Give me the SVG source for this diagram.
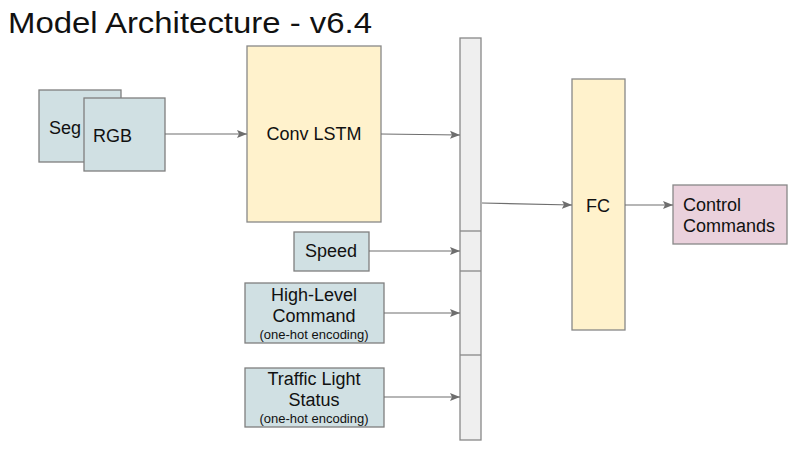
<svg xmlns="http://www.w3.org/2000/svg" width="800" height="449" viewBox="0 0 800 449">
<defs>
<marker id="arr" viewBox="0 0 10 10" refX="10" refY="5" markerWidth="10" markerHeight="10" markerUnits="userSpaceOnUse" orient="auto">
<path d="M0,1 L10,5 L0,9 L2,5 Z" fill="#6e6e6e"/>
</marker>
</defs>
<style>
text{font-family:"Liberation Sans",Arial,sans-serif;fill:#111}
.in{fill:#d0e0e3;stroke:#7f7f7f;stroke-width:1.3}
.yl{fill:#fff2cc;stroke:#888;stroke-width:1.3}
.cc{fill:#efefef;stroke:#888;stroke-width:1.3}
.pk{fill:#ead1dc;stroke:#888;stroke-width:1.3}
.t{font-size:18px}
.s{font-size:13px}
.c{text-anchor:middle}
.ln{stroke:#6e6e6e;stroke-width:1.2;fill:none;marker-end:url(#arr)}
</style>
<rect width="800" height="449" fill="#fff"/>
<text x="8" y="33" font-size="30" textLength="364" lengthAdjust="spacingAndGlyphs">Model Architecture - v6.4</text>
<g id="seg"><rect class="in" x="39" y="90" width="82" height="72"/><text class="t" x="49" y="134">Seg</text></g>
<g id="rgb"><rect class="in" x="84" y="98" width="81" height="73"/><text class="t" x="93" y="142">RGB</text></g>
<g id="convlstm"><rect class="yl" x="247" y="46" width="134" height="176"/><text class="t c" x="314" y="140">Conv LSTM</text></g>
<g id="concat">
<rect class="cc" x="460" y="38" width="21" height="402"/>
<line x1="460" y1="231" x2="481" y2="231" stroke="#888" stroke-width="1.3"/>
<line x1="460" y1="271" x2="481" y2="271" stroke="#888" stroke-width="1.3"/>
<line x1="460" y1="355" x2="481" y2="355" stroke="#888" stroke-width="1.3"/>
</g>
<g id="speed"><rect class="in" x="294" y="232" width="75" height="39"/><text class="t c" x="331" y="257">Speed</text></g>
<g id="hlc"><rect class="in" x="245" y="283" width="139" height="60"/>
<text class="t c" x="314" y="301">High-Level</text><text class="t c" x="314" y="322">Command</text><text class="s c" x="314" y="339">(one-hot encoding)</text></g>
<g id="tls"><rect class="in" x="245" y="368" width="139" height="59"/>
<text class="t c" x="314" y="385">Traffic Light</text><text class="t c" x="314" y="406">Status</text><text class="s c" x="314" y="423">(one-hot encoding)</text></g>
<g id="fc"><rect class="yl" x="572" y="79" width="53" height="251"/><text class="t c" x="598" y="212">FC</text></g>
<g id="control"><rect class="pk" x="673" y="185" width="114" height="59"/><text class="t" x="683" y="211">Control</text><text class="t" x="683" y="232">Commands</text></g>
<g id="connectors">
<line class="ln" x1="165" y1="134" x2="247" y2="134"/>
<line class="ln" x1="381" y1="134" x2="460" y2="135"/>
<line class="ln" x1="369" y1="251" x2="460" y2="251"/>
<line class="ln" x1="384" y1="313" x2="460" y2="313"/>
<line class="ln" x1="384" y1="397" x2="460" y2="397"/>
<line class="ln" x1="482" y1="203" x2="572" y2="205"/>
<line class="ln" x1="625" y1="205" x2="673" y2="205"/>
</g>
</svg>
